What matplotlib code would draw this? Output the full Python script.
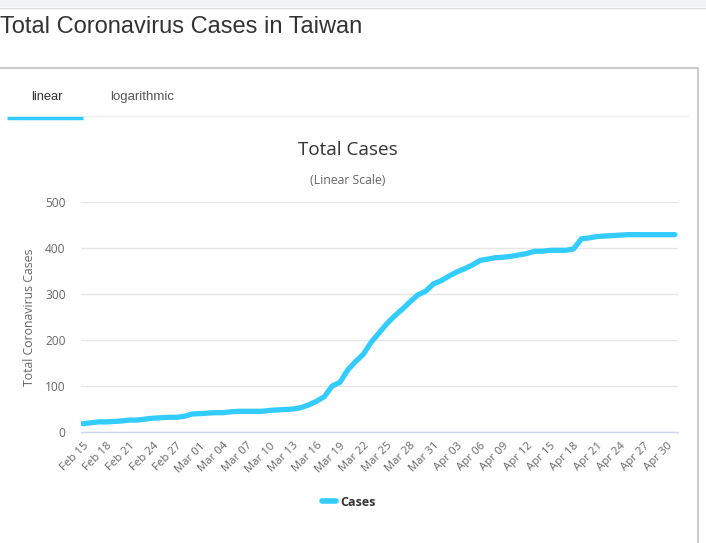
import numpy as np
import matplotlib
matplotlib.use("Agg")
from matplotlib import pyplot as plt
from matplotlib.lines import Line2D
from matplotlib.patches import Rectangle
import datetime as dt

# daily totals, Feb 15 .. May 1
start = dt.date(2020, 2, 15)
cases = [18, 20, 22, 22, 23, 24, 26, 26, 28, 30, 31, 32, 32, 34, 39,
         40, 41, 42, 42, 44, 45, 45, 45, 45, 47, 48, 49, 50, 53, 59, 67, 77,
         100, 108, 135, 153, 169, 195, 215, 235, 252, 267, 283, 298, 306, 322,
         329, 339, 348, 355, 363, 373, 376, 379, 380, 382, 385, 388, 393, 393,
         395, 395, 395, 398, 420, 422, 425, 426, 427, 428, 429, 429, 429, 429,
         429, 429, 429]
dates = [start + dt.timedelta(days=i) for i in range(len(cases))]
labels = [d.strftime("%b %d") for d in dates]
yticks = [0, 100, 200, 300, 400, 500]

W, H = 706, 543
fig = plt.figure(figsize=(W / 100, H / 100), dpi=100)
fig.patch.set_facecolor("white")

def fx(px):
    return px / W

def fy(py):
    return 1 - py / H

# page chrome
fig.patches.append(Rectangle((0, fy(7)), 1, 7 / H, transform=fig.transFigure,
                             facecolor="#f3f4f6", edgecolor="none"))
fig.lines.append(Line2D([0, 1], [fy(7.5), fy(7.5)], transform=fig.transFigure,
                        color="#dddddd", lw=1))
fig.text(fx(0), fy(33), "Total Coronavirus Cases in Taiwan", fontsize=17,
         family="Liberation Sans", color="#333333", va="baseline", ha="left")

# panel border
fig.lines.append(Line2D([0, fx(698), fx(698)], [fy(68), fy(68), 0],
                        transform=fig.transFigure, color="#cccccc", lw=1.5))

# tabs
fig.text(fx(47), fy(97), "linear", fontsize=9.3, family="Liberation Sans",
         color="#333333", ha="center", va="center")
fig.text(fx(142), fy(97), "logarithmic", fontsize=9.5, family="Liberation Sans",
         color="#555555", ha="center", va="center")
fig.lines.append(Line2D([fx(83), fx(688)], [fy(116), fy(116)],
                        transform=fig.transFigure, color="#eeeeee", lw=1))
fig.lines.append(Line2D([fx(7), fx(83)], [fy(118), fy(118)],
                        transform=fig.transFigure, color="#33ccff", lw=2.5,
                        solid_capstyle="butt"))

# chart titles
fig.text(fx(348), fy(150), "Total Cases", fontsize=13.6, family="Open Sans",
         color="#333333", ha="center", va="center")
fig.text(fx(348), fy(180), "(Linear Scale)", fontsize=8.8, family="Open Sans",
         color="#666666", ha="center", va="center")

ax = fig.add_axes([fx(81), fy(432), (678 - 81) / W, (432 - 202) / H])
x = np.arange(len(cases))
ax.plot(x, cases, color="#33ccff", lw=3.8, solid_capstyle="round",
        solid_joinstyle="round", label="Cases", zorder=3)

ax.set_ylim(0, 500)
ax.set_xlim(-0.25, len(cases) - 1 + 0.4)
ax.set_yticks(yticks)
ax.set_yticklabels([str(v) for v in yticks], family="Open Sans", fontsize=8.6,
                   color="#666666")
ax.yaxis.grid(True, color="#e6e6e6", lw=1)
ax.set_axisbelow(True)
ax.tick_params(axis="y", length=0, pad=11)

tick_idx = list(range(0, len(cases), 3))
ax.set_xticks(tick_idx)
ax.set_xticklabels([labels[i] for i in tick_idx], rotation=45, ha="right",
                   rotation_mode="anchor", family="Open Sans", fontsize=8.2,
                   color="#666666")
ax.tick_params(axis="x", length=0, pad=6)

for s in ["top", "right", "left"]:
    ax.spines[s].set_visible(False)
ax.spines["bottom"].set_color("#ccd6eb")
ax.spines["bottom"].set_linewidth(1)

# y axis title
fig.text(fx(30), fy(317), "Total Coronavirus Cases", rotation=90,
         family="Open Sans", fontsize=8.8, color="#666666",
         ha="center", va="center")

leg = fig.legend(handles=[Line2D([], [], color="#33ccff", lw=4,
                                 solid_capstyle="round")],
                 labels=["Cases"], loc="center", bbox_to_anchor=(fx(349), fy(502)),
                 frameon=False, handlelength=1.1, handletextpad=0.4,
                 prop={"family": "Open Sans", "weight": "bold", "size": 9})
for t in leg.get_texts():
    t.set_color("#333333")

fig.savefig("out.png", dpi=100, facecolor="white")
